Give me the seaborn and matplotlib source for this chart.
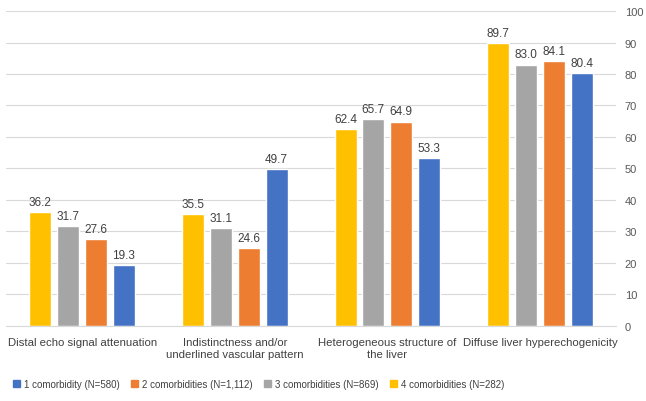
import matplotlib
matplotlib.use("Agg")
from matplotlib import pyplot as plt
from matplotlib.patches import Patch
import pandas as pd
import seaborn as sns

categories = ["Distal echo signal attenuation",
              "Indistinctness and/or\nunderlined vascular pattern",
              "Heterogeneous structure of\nthe liver",
              "Diffuse liver hyperechogenicity"]
series = ["4 comorbidities (N=282)", "3 comorbidities (N=869)",
          "2 comorbidities (N=1,112)", "1 comorbidity (N=580)"]
vals_4 = [36.2, 35.5, 62.4, 89.7]
vals_3 = [31.7, 31.1, 65.7, 83.0]
vals_2 = [27.6, 24.6, 64.9, 84.1]
vals_1 = [19.3, 49.7, 53.3, 80.4]
colors = ["#FFC000", "#A5A5A5", "#ED7D31", "#4472C4"]

rows = []
for s, vals in zip(series, [vals_4, vals_3, vals_2, vals_1]):
    for c, v in zip(categories, vals):
        rows.append({"category": c, "series": s, "value": v})
df = pd.DataFrame(rows)

sns.set_style("white")
plt.rcParams["font.family"] = ["Liberation Sans", "DejaVu Sans"]

fig = plt.figure(figsize=(6.46, 4.02), dpi=100)
ax = fig.add_axes([0.009, 0.187, 0.945, 0.783])
sns.barplot(data=df, x="category", y="value", hue="series", hue_order=series,
            palette=colors, saturation=1, width=0.73, gap=0.21, ax=ax, legend=False)

for cont in ax.containers:
    ax.bar_label(cont, fmt="%.1f", padding=3, fontsize=8.5, color="#404040")

ax.set_ylim(0, 100)
ax.set_yticks(range(0, 101, 10))
ax.yaxis.tick_right()
ax.tick_params(axis="y", length=0, labelsize=8, labelcolor="#595959", pad=6)
ax.tick_params(axis="x", length=0, labelsize=8.2, labelcolor="#404040", pad=8)
ax.set_xlabel("")
ax.set_ylabel("")
ax.grid(axis="y", color="#D9D9D9", linewidth=0.8)
ax.set_axisbelow(True)
for side in ["top", "left", "right"]:
    ax.spines[side].set_visible(False)
ax.spines["bottom"].set_color("#D9D9D9")

handles = [Patch(color=colors[i], label=series[i]) for i in [3, 2, 1, 0]]
fig.legend(handles=handles, loc="center", bbox_to_anchor=(0.40, 0.042), ncol=4,
           frameon=False, fontsize=7, handlelength=0.7, handleheight=0.7,
           handletextpad=0.4, columnspacing=1.2, labelcolor="#404040")

fig.savefig("out.png", dpi=100)
